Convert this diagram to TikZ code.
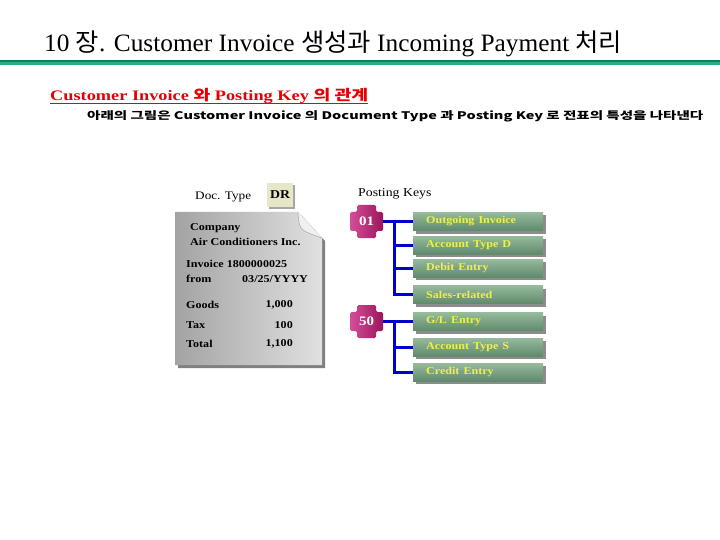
\documentclass[tikz,border=0pt]{standalone}
\usepackage{fontspec}
\usepackage{graphicx}
\setmainfont{Liberation Serif}
\newfontfamily\kr{Noto Sans CJK KR}
\usetikzlibrary{shadows}

\definecolor{bandgreen}{RGB}{34,176,134}
\definecolor{banddark}{RGB}{14,128,96}
\definecolor{headred}{RGB}{232,0,0}
\definecolor{keyblue}{RGB}{0,0,205}
\definecolor{keyyellow}{RGB}{240,240,70}
\definecolor{boxtop}{RGB}{150,186,156}
\definecolor{boxbot}{RGB}{96,138,108}
\definecolor{badgelight}{RGB}{212,78,152}
\definecolor{badgedark}{RGB}{156,22,94}
\definecolor{drfill}{RGB}{232,230,200}

\newcommand{\sxt}[1]{\scalebox{1.15}[1]{#1}}
\newcommand{\fitw}[2]{\resizebox{#1}{\height}{#2}}

\tikzset{
  doctext/.style={anchor=west, inner sep=0pt, font=\bfseries\fontsize{10.5}{12}\selectfont},
  docnum/.style={doctext, anchor=east},
  keybox/.style={anchor=west, minimum height=18pt, text width=104pt, inner xsep=13pt, inner ysep=0pt,
    align=left, top color=boxtop, bottom color=boxbot, text=keyyellow,
    font=\bfseries\fontsize{10.5}{12}\selectfont,
    drop shadow={shadow xshift=3pt, shadow yshift=-3pt, fill=black!45, opacity=1}},
  keyline/.style={keyblue, line width=3pt},
  keytext/.style={minimum size=33pt, inner sep=0pt, text=white, font=\bfseries\fontsize{13}{15}\selectfont}
}

\begin{document}
\begin{tikzpicture}[x=1pt, y=-1pt]
    \fill[white] (0,0) rectangle (720,540);
    \useasboundingbox (0,0) rectangle (720,540);

    % Title and band
    \node[anchor=base west, inner sep=0pt] (title) at (44,52)
        {\fitw{578pt}{\fontsize{25}{29}\selectfont 10 {\kr 장}. Customer Invoice {\kr 생성과} Incoming Payment {\kr 처리}}};
    \draw[banddark, line width=5pt] (0,63) -- (720,63);
    \draw[bandgreen, line width=3pt] (0,63.5) -- (720,63.5);

    % Heading
    \node[anchor=base west, inner sep=0pt, text=headred] (head) at (50,101)
        {\fitw{318pt}{\fontsize{14.5}{16}\selectfont\bfseries Customer Invoice {\kr 와} Posting Key {\kr 의 관계}}};
    \draw[headred, line width=1.3pt] ([yshift=-2.5pt]head.base west) -- ([yshift=-2.5pt]head.base east);
    \node[anchor=base west, inner sep=0pt] (sub) at (87,120)
        {\fitw{616pt}{\kr\bfseries\fontsize{10.5}{12}\selectfont 아래의 그림은 Customer Invoice 의 Document Type 과 Posting Key 로 전표의 특성을 나타낸다}};

    % Invoice sheet
    \fill[black!50] (178,215) -- (301,215) -- (325,241) -- (325,368) -- (178,368) -- cycle;
    \path[left color=black!36, right color=black!12] (175,212) -- (298,212) -- (322,238) -- (322,365) -- (175,365) -- cycle;
    \fill[black!6] (298,212) .. controls (299,230) .. (322,238) -- cycle;
    \draw[black!40, thin] (298,212) .. controls (299,230) .. (322,238);

    \node[doctext] (company) at (190,228) {\sxt{Company}};
    \node[doctext] (firm) at (190,242) {\sxt{Air Conditioners Inc.}};
    \node[doctext] (invno) at (186,264) {\sxt{Invoice 1800000025}};
    \node[doctext] (from) at (186,279) {\sxt{from}};
    \node[doctext] (date) at (242,279) {\sxt{03/25/YYYY}};
    \node[doctext] (goods) at (186,305) {\sxt{Goods}};
    \node[docnum] (goodsv) at (293,305) {\sxt{1,000}};
    \node[doctext] (tax) at (186,325) {\sxt{Tax}};
    \node[docnum] (taxv) at (293,325) {\sxt{100}};
    \node[doctext] (total) at (186,344) {\sxt{Total}};
    \node[docnum] (totalv) at (293,344) {\sxt{1,100}};

    % Document type
    \node[anchor=west, inner sep=0pt, font=\fontsize{11.5}{13}\selectfont] (dtlabel) at (195,197) {\sxt{Doc. Type}};
    \node[minimum width=26pt, minimum height=24pt, inner sep=0pt, fill=drfill,
          drop shadow={shadow xshift=2pt, shadow yshift=-2pt, fill=black!35, opacity=1},
          font=\bfseries\fontsize{12}{14}\selectfont] (dr) at (280,195) {\sxt{DR}};

    % Posting keys
    \node[anchor=west, inner sep=0pt, font=\fontsize{12}{14}\selectfont] (pklabel) at (358,194) {\sxt{Posting Keys}};

    \foreach \k/\y in {01/221.5, 50/321.5}{
        \path[left color=badgelight, right color=badgedark, shift={(366.5,\y)}, rounded corners=1.5pt]
            (-9.5,-16.5) -- (9.5,-16.5) -- (9.5,-9.5) -- (16.5,-9.5) -- (16.5,9.5) -- (9.5,9.5) --
            (9.5,16.5) -- (-9.5,16.5) -- (-9.5,9.5) -- (-16.5,9.5) -- (-16.5,-9.5) -- (-9.5,-9.5) -- cycle;
        \node[keytext] (k\k) at (366.5,\y) {\sxt{\k}};
    }

    \foreach \name/\y/\txt in {b1/221.5/Outgoing Invoice, b2/245/Account Type D, b3/268/Debit Entry,
        b4/294.5/Sales-related, b5/321.5/{G/L Entry}, b6/347/Account Type S, b7/372/Credit Entry}
        \node[keybox] (\name) at (413,\y) {\sxt{\txt}};

    % Key lines
    \coordinate (j01) at (394,221.5);
    \coordinate (j50) at (394,321.5);
    \draw[keyline] (k01.east) -- (b1.west);
    \foreach \i in {2,...,4} \draw[keyline] (j01) |- (b\i.west);
    \draw[keyline] (k50.east) -- (b5.west);
    \foreach \i in {6,7} \draw[keyline] (j50) |- (b\i.west);
\end{tikzpicture}
\end{document}
